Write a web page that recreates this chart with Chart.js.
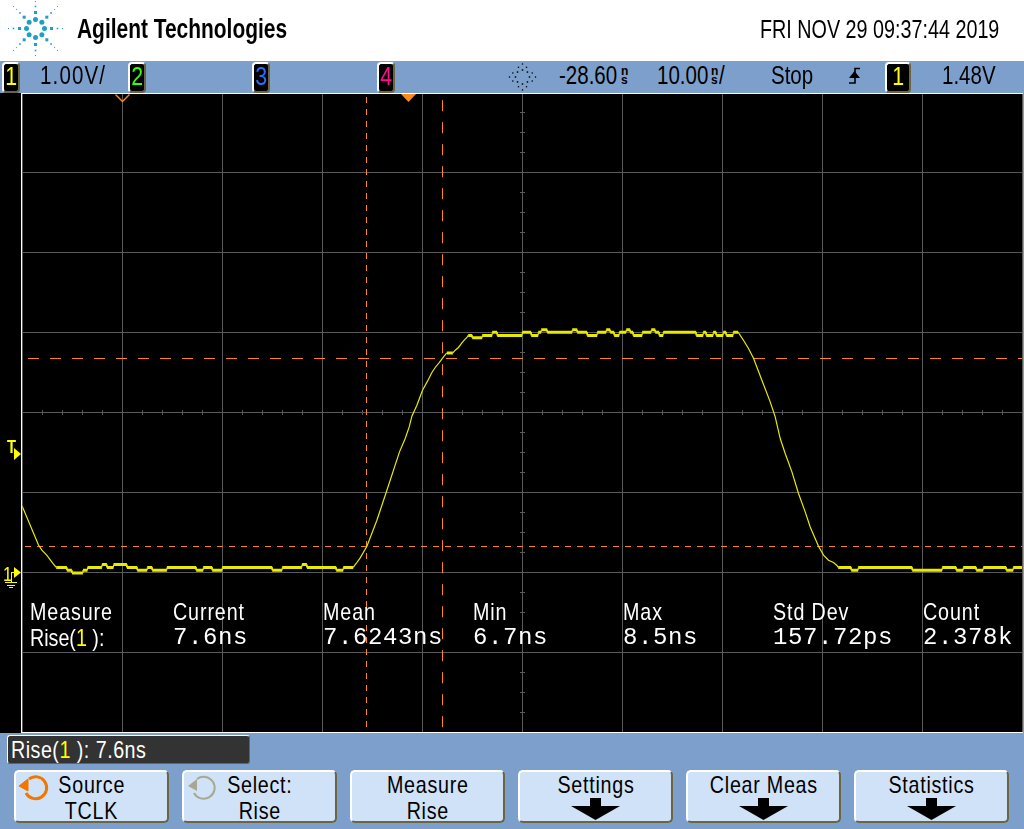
<!DOCTYPE html>
<html><head><meta charset="utf-8">
<script src="https://cdn.jsdelivr.net/npm/chart.js@4"></script>
<style>
html,body{margin:0;padding:0;background:#000;overflow:hidden}
#page{position:relative;width:1024px;height:829px;overflow:hidden;font-family:"Liberation Sans",sans-serif;color:#000}
#page>*{position:absolute}
canvas{left:0;top:0;z-index:1}
.bg{z-index:0}.ov{z-index:2}
.t{white-space:pre;z-index:3;line-height:1;transform:scaleX(.82);transform-origin:0 0}
.w{color:#fff}
.m1{font-size:24px;letter-spacing:1.1px;top:600px}
.m2{font-family:"Liberation Mono",monospace;font-size:24px;letter-spacing:.6px;top:626px;transform:none}
.h{font-size:25px;top:63px}
.u{position:absolute;font-size:12px;line-height:9px;font-weight:bold;top:67px;white-space:pre;z-index:3}
.box{box-sizing:border-box;background:#000;border:2px solid;border-color:#fff #6b6540 #6b6540 #fff;border-radius:4px;text-align:center;z-index:3;line-height:24px;font-size:26px;top:62px;height:31px;width:18px}
.n{display:inline-block;transform:scaleX(.82);transform-origin:50% 50%;white-space:pre}
.btn{box-sizing:border-box;background:#d0e2f8;border:2px solid;border-color:#fff #6b6540 #6b6540 #fff;border-radius:5px;top:770px;width:155px;height:53px;z-index:3;text-align:center;font-size:24px;line-height:24px;letter-spacing:.9px}
.btn div{height:25px;padding-top:1px}
.y{color:#ffff00}
</style></head><body>
<div id="page">
<div class="bg" style="left:0;top:0;width:1024px;height:61px;background:#fff"></div>
<canvas id="c" width="1024" height="829"></canvas>
<div class="ov" style="left:0;top:61px;width:1024px;height:32px;background:#7d9fcb"></div>
<div class="ov" style="left:21px;top:93px;width:1003px;height:1px;background:#fff"></div>
<div class="ov" style="left:21px;top:93px;width:1px;height:640px;background:#fff"></div>
<div class="ov" style="left:21px;top:732px;width:1003px;height:1px;background:#fff"></div>
<div class="ov" style="left:1023px;top:93px;width:1px;height:640px;background:#7d9fcb"></div>
<div class="ov" style="left:0;top:733px;width:1024px;height:96px;background:#7d9fcb"></div>

<svg class="ov" id="logo" style="left:0;top:0;z-index:3" width="72" height="60"></svg>
<div class="t" style="left:77px;top:16px;font-size:27px;font-weight:bold;transform:scaleX(.775)">Agilent Technologies</div>
<div class="t" style="left:760px;top:17px;font-size:25px;transform:scaleX(.79)">FRI NOV 29 09:37:44 2019</div>

<div class="box y" style="left:2px"><span class="n">1</span></div>
<div class="t h" style="left:40px;letter-spacing:1.4px">1.00V/</div>
<div class="box" style="left:128px;color:#33ff00"><span class="n">2</span></div>
<div class="box" style="left:252px;color:#2f6bff"><span class="n">3</span></div>
<div class="box" style="left:377px;color:#ff0a8c"><span class="n">4</span></div>
<svg class="ov" id="spark" style="left:508px;top:63px;z-index:3" width="30" height="28"></svg>
<div class="t h" style="left:559px">-28.60</div>
<div class="u" style="left:621px">n
s</div>
<div class="t h" style="left:657px">10.00</div>
<div class="u" style="left:711px">n
s</div>
<div class="t h" style="left:719px">/</div>
<div class="t h" style="left:771px">Stop</div>
<svg class="ov" style="left:846px;top:66px;z-index:3" width="16" height="20"><path d="M3 17H9V2.500H14" fill="none" stroke="#000" stroke-width="1.600"/><path d="M3 12H14L8.500 5Z" fill="#000"/></svg>
<div class="box y" style="left:885px;width:26px"><span class="n">1</span></div>
<div class="t h" style="left:942px">1.48V</div>

<svg class="ov" style="left:0;top:93px;z-index:3" width="1024" height="12">
<path d="M115.500 1.500L122.500 8.500L129.500 1.500" fill="none" stroke="#ff8a14" stroke-width="1.400"/>
<path d="M401 1H416L408.500 9Z" fill="#ff8a14"/></svg>

<div class="t y" style="left:7px;top:438px;font-size:18px;font-weight:bold">T</div>
<svg class="ov" style="left:0;top:440px;z-index:3" width="22" height="150">
<path d="M14 8L21 14L14 20Z" fill="#ffff00"/>
<path d="M14 127L21 132.500L14 138Z" fill="#ffff00"/>
<path d="M11.500 132V142M5 142.500H17M7 145.500H15M9 147.500H13M11.500 132.500H14" stroke="#ffff00" stroke-width="1" fill="none"/></svg>
<div class="t y" style="left:3px;top:564px;font-size:20px">1</div>

<div class="t w m1" style="left:30px">Measure</div>
<div class="t w m1" style="left:173px">Current</div>
<div class="t w m1" style="left:323px">Mean</div>
<div class="t w m1" style="left:473px">Min</div>
<div class="t w m1" style="left:623px">Max</div>
<div class="t w m1" style="left:773px">Std Dev</div>
<div class="t w m1" style="left:923px">Count</div>
<div class="t w m1" style="left:30px;top:626px;letter-spacing:0">Rise(<span class="y">1</span> ):</div>
<div class="t w m2" style="left:173px">7.6ns</div>
<div class="t w m2" style="left:323px">7.6243ns</div>
<div class="t w m2" style="left:473px">6.7ns</div>
<div class="t w m2" style="left:623px">8.5ns</div>
<div class="t w m2" style="left:773px">157.72ps</div>
<div class="t w m2" style="left:923px">2.378k</div>

<div class="ov" style="left:7px;top:735px;width:243px;height:29px;box-sizing:border-box;background:#333;border:1px solid;border-color:#fff #6b6540 #6b6540 #fff;border-radius:3px"></div>
<div class="t w" style="left:11px;top:738px;font-size:24px;letter-spacing:.6px">Rise(<span class="y">1</span> ): 7.6ns</div>

<div class="btn" style="left:14px"><div><span class="n">Source</span></div><div><span class="n">TCLK</span></div></div>
<div class="btn" style="left:182px"><div><span class="n">Select:</span></div><div><span class="n">Rise</span></div></div>
<div class="btn" style="left:350px"><div><span class="n">Measure</span></div><div><span class="n">Rise</span></div></div>
<div class="btn" style="left:518px"><div><span class="n">Settings</span></div></div>
<div class="btn" style="left:686px"><div><span class="n">Clear Meas</span></div></div>
<div class="btn" style="left:854px"><div><span class="n">Statistics</span></div></div>
<svg style="left:0;top:770px;z-index:4" width="1024" height="59">
<g fill="#000"><path d="M590 28H601V36H620L595.500 50L571 36H590Z"/>
<path d="M758 28H769V36H788L763.500 50L739 36H758Z"/>
<path d="M926 28H937V36H956L931.500 50L907 36H926Z"/></g>
<path d="M29 9A11 11 0 1 1 26 23" fill="none" stroke="#f07800" stroke-width="3"/>
<path d="M19 16L28 9V21Z" fill="#f07800" stroke="#f07800"/>
<path d="M197 9A11 11 0 1 1 194 23" fill="none" stroke="#a8a890" stroke-width="2"/>
<path d="M188 16L197 9V21Z" fill="#a8a890"/>
</svg>
</div>
<script>
const traceNs = [-78.6,-76.97,-76.63,-76.13,-75.53,-75.2,-74.13,-74.13,-73.63,-73.63,-72.53,-72.53,-72.07,-72.07,-70.63,-70.63,-70.13,-70.13,-69.47,-69.47,-68.13,-68.13,-67.1,-67.1,-66.1,-66.1,-65.6,-65.6,-64.13,-64.13,-61.2,-61.2,-60.5,-60.5,-59.6,-59.6,-58.6,-58.6,-53.6,-53.6,-52.6,-52.6,-50.63,-50.63,-50.13,-50.13,-47.2,-47.2,-46.5,-46.5,-45.5,
-45.2,-44.8,-44.13,-43.13,-42.13,-40.87,-40.3,-39.9,-39.63,-39.13,-38.57,-38.07,-37.63,-37.3,-36.9,-36.47,-36.13,-35.53,-35.3,-34.97,-34.63,-34.4,-34.13,
-34.0,-33.6,-33.6,-32.6,-32.6,-31.6,-31.6,-31.1,-31.1,-28.6,-28.6,-27.7,-27.7,-27.0,-27.0,-26.7,-26.7,-26.1,-26.1,-23.6,-23.6,-23.1,-23.1,-22.1,-22.1,-21.1,-21.1,-20.2,-20.2,-19.8,-19.8,-19.4,-19.4,-18.9,-18.9,-18.2,-18.2,-17.8,-17.8,-17.5,-17.5,-16.6,-16.6,-15.7,-15.7,-15.3,-15.3,-14.9,-14.9,-14.5,-14.5,-11.2,-11.2,-10.5,-10.5,-10.2,-10.2,-9.5,-9.5,-9.2,-9.2,-8.5,-8.5,-8.2,-8.2,-7.5,-7.5,-7.0,
-6.8,-6.47,-5.97,-5.47,-4.63,-3.8,-3.3,-2.8,-2.3,-1.63,-0.97,-0.3,0.2,1.03,1.53,2.03,2.53,2.87,
3.0,4.3,4.3,5.0,5.0,10.4,10.4,13.4,13.4,14.8,14.8,15.5,15.5,16.8,16.8,17.5,17.5,19.8,19.8,20.5,20.5,21.4];
const traceV = [0.825,0.34,0.275,0.21,0.11,0.06,0.06,0.025,0.025,-0.01,-0.01,0.025,0.025,0.06,0.06,0.095,0.095,0.06,0.06,0.095,0.095,0.06,0.06,0.025,0.025,0.06,0.06,0.025,0.025,0.06,0.06,0.025,0.025,0.06,0.06,0.025,0.025,0.06,0.06,0.025,0.025,0.06,0.06,0.095,0.095,0.06,0.06,0.025,0.025,0.06,0.06,
0.109,0.179,0.325,0.65,1.025,1.504,1.671,1.816,1.95,2.088,2.275,2.388,2.496,2.559,2.621,2.691,2.741,2.741,2.775,2.809,2.866,2.9,2.934,
2.96,2.96,2.93,2.93,2.96,2.96,3.0,3.0,2.96,2.96,3.0,3.0,2.96,2.96,3.0,3.0,3.03,3.03,3.0,3.0,3.03,3.03,3.0,3.0,2.96,2.96,3.0,3.0,3.03,3.03,3.0,3.0,2.96,2.96,3.0,3.0,3.03,3.03,3.0,3.0,2.96,2.96,3.0,3.0,3.03,3.03,3.0,3.0,2.96,2.96,3.0,3.0,2.96,2.96,3.0,3.0,2.96,2.96,3.0,3.0,2.96,2.96,3.0,3.0,2.96,2.96,3.0,3.0,
2.96,2.9,2.796,2.675,2.4,2.129,1.941,1.671,1.484,1.254,0.984,0.754,0.566,0.325,0.213,0.15,0.121,0.084,
0.06,0.06,0.025,0.025,0.06,0.06,0.025,0.025,0.06,0.06,0.025,0.025,0.06,0.06,0.025,0.025,0.06,0.06,0.025,0.025,0.06,0.06];
// Axis divisions
const timeGridNs = [-78.6,-68.6,-58.6,-48.6,-38.6,-28.6,-18.6,-8.6,1.4,11.4,21.4];
const voltGrid = [-2,-1,0,1,2,3,4,5,6];
// Measurement cursors
const cursorTimesNs = [-44.17,-36.57];
const cursorLevelsV = [2.671,0.321];

const pts = traceNs.map((x,i)=>({x,y:traceV[i]}));
const O = '#ff8a14', G = '#5a5a5a';
const centerTicks = {
  id:'centerTicks',
  beforeDatasetsDraw(ch){
    const {ctx,scales:{x,y}} = ch;
    ctx.save(); ctx.strokeStyle=G; ctx.lineWidth=1; ctx.beginPath();
    const py = Math.floor(y.getPixelForValue(2))+.5, px = Math.floor(x.getPixelForValue(-28.6))+.5;
    for(let i=0;i<=50;i++){const p=Math.floor(x.getPixelForValue(-78.6+i*2))+.5; ctx.moveTo(p,py-2.5); ctx.lineTo(p,py+2.5);}
    for(let i=0;i<=32;i++){const p=Math.floor(y.getPixelForValue(-2+i*.25))+.5; ctx.moveTo(px-2.5,p); ctx.lineTo(px+2.5,p);}
    ctx.stroke(); ctx.restore();
  }
};
new Chart(document.getElementById('c'),{
  type:'line',
  data:{datasets:[
    {label:'cursor X1',data:[{x:cursorTimesNs[0],y:5.94},{x:cursorTimesNs[0],y:-2}],borderColor:O,borderWidth:1,borderDash:[6,6],pointRadius:0,order:2},
    {label:'cursor X2',data:[{x:cursorTimesNs[1],y:5.9},{x:cursorTimesNs[1],y:-2}],borderColor:O,borderWidth:1,borderDash:[11,11],pointRadius:0,order:2},
    {label:'cursor Y1',data:[{x:-78.02,y:cursorLevelsV[0]},{x:21.4,y:cursorLevelsV[0]}],borderColor:O,borderWidth:1,borderDash:[11,11],pointRadius:0,order:2},
    {label:'cursor Y2',data:[{x:-78.32,y:cursorLevelsV[1]},{x:21.4,y:cursorLevelsV[1]}],borderColor:O,borderWidth:1,borderDash:[6,6],pointRadius:0,order:2},
    {label:'Channel 1',data:pts,borderColor:'#eaea00',borderWidth:1.2,pointRadius:0,tension:0,order:1,borderCapStyle:'butt',
     segment:{borderWidth:c=>c.p0.parsed.y===c.p1.parsed.y?3:(Math.abs(c.p0.parsed.x-c.p1.parsed.x)<0.01?1:1.2)}}
  ]},
  options:{
    responsive:false,animation:false,
    layout:{padding:{left:22.2,top:92.2,right:1.8,bottom:96.8}},
    plugins:{legend:{display:false},tooltip:{enabled:false},title:{display:false}},
    scales:{
      x:{type:'linear',min:-78.6,max:21.4,
         afterBuildTicks(s){s.ticks=timeGridNs.map(value=>({value}));},
         ticks:{display:false},border:{display:false},
         grid:{color:G,lineWidth:1,drawTicks:false,tickLength:0}},
      y:{type:'linear',min:-2,max:6,
         afterBuildTicks(s){s.ticks=voltGrid.map(value=>({value}));},
         ticks:{display:false},border:{display:false},
         grid:{color:G,lineWidth:1,drawTicks:false,tickLength:0}}
    }
  },
  plugins:[centerTicks]
});
// Logo and acquisition icon (decoration)
function star(svgId,cx,cy,rings,col){
  const NS='http://www.w3.org/2000/svg',s=document.getElementById(svgId);
  rings.forEach(([r,n,size,square,off])=>{
    for(let i=0;i<n;i++){
      const a=(off||0)+i*2*Math.PI/n,x=cx+r*Math.cos(a),y=cy+r*Math.sin(a);
      let e;
      if(square){e=document.createElementNS(NS,'rect');e.setAttribute('x',x-size/2);e.setAttribute('y',y-size/2);e.setAttribute('width',size);e.setAttribute('height',size);}
      else{e=document.createElementNS(NS,'circle');e.setAttribute('cx',x);e.setAttribute('cy',y);e.setAttribute('r',size/2);}
      e.setAttribute('fill',col);s.appendChild(e);
    }
  });
}
star('logo',35.5,28.5,[[9,8,5,false,0],[16,8,3,true,0],[22,8,1.6,true,0],[27,8,1,true,0],[31,4,1,true,Math.PI/4]],'#1f9fc4');
star('spark',14.5,14,[[7,8,1.5,true,0],[10.5,8,1.3,true,Math.PI/8],[13,4,1.3,true,0]],'#000');
</script>
</body></html>
